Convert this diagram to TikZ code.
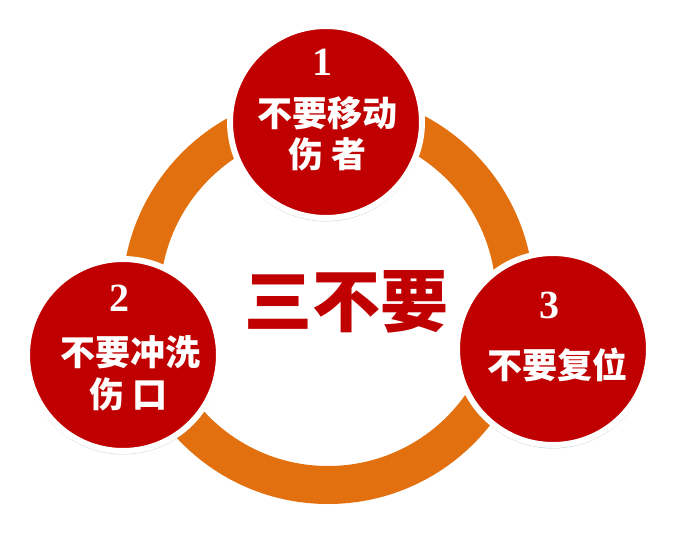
\documentclass[tikz,border=0pt]{standalone}
\usepackage{fontspec}
\newfontfamily\cjk{Noto Sans CJK SC}
\newfontfamily\numfont{Liberation Serif}[UprightFont={* Bold}]
\usetikzlibrary{positioning, shadows}
\definecolor{cred}{HTML}{C00000}
\definecolor{corange}{HTML}{E3700F}
\tikzset{
  every picture/.style={x=1pt, y=-1pt},
  ring/.style={draw=corange, line width=38pt},
  bubble/.style={circle, fill=cred, draw=white, line width=6pt, minimum size=192pt, inner sep=0pt,
    drop shadow={shadow xshift=0pt, shadow yshift=-1.5pt, shadow scale=1.02, fill=black, opacity=0.2}},
  num/.style={font=\numfont\fontsize{40}{40}\selectfont, text=white, inner sep=0pt},
  tag/.style={font=\cjk\bfseries\fontsize{35}{35}\selectfont, text=white, inner sep=0pt},
  title/.style={font=\cjk\bfseries\fontsize{68}{68}\selectfont, text=cred, inner sep=0pt},
}

\begin{document}
\begin{tikzpicture}
  \useasboundingbox[fill=white] (0,0) rectangle (677,547);
  % orange ring behind everything
  \draw[ring] (328,298) circle[radius=187pt];
  \node[title] (head) at (346,302) {三不要};
  % three red bubbles
  \node[bubble] (c1) at (326,122) {};
  \node[bubble] (c2) at (123,355) {};
  \node[bubble] (c3) at (553,349) {};
  % texts in the bubbles
  \node[num] (n1) at (322,62) {1};
  \node[tag] (t1) at (327,113) {不要移动};
  \node[tag] (u1) at (328,154) {伤 者};
  \node[num] (n2) at (119,298) {2};
  \node[tag] (t2) at (130,352) {不要冲洗};
  \node[tag] (u2) at (129,394) {伤 口};
  \node[num] (n3) at (549,305) {3};
  \node[tag] (t3) at (557,365) {不要复位};
\end{tikzpicture}
\end{document}
